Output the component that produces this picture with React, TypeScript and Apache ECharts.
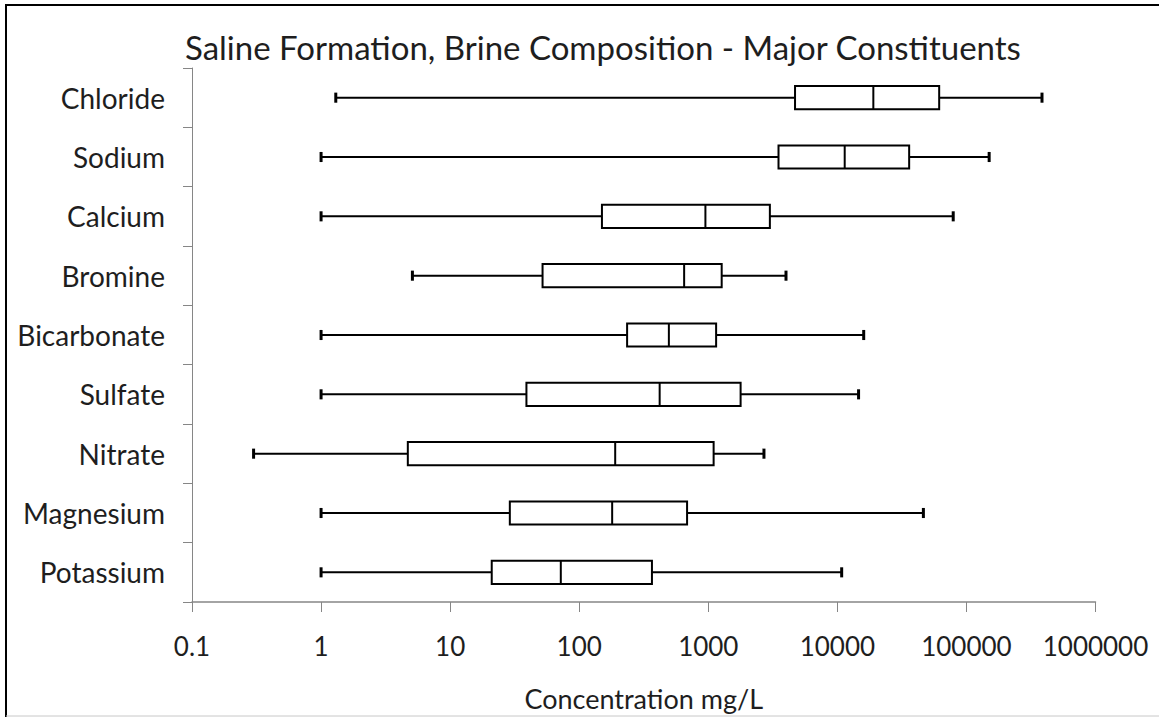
import React, { useEffect, useRef } from "react";
import * as echarts from "echarts";

// Constituents, listed top to bottom
const categories = [
  "Chloride",
  "Sodium",
  "Calcium",
  "Bromine",
  "Bicarbonate",
  "Sulfate",
  "Nitrate",
  "Magnesium",
  "Potassium",
];

// Five-number summaries, mg/L
const mins = [1.3, 1, 1, 5.1, 1, 1, 0.3, 1, 1];
const q1s = [4700, 3500, 150, 52, 235, 39, 4.7, 29, 21];
const medians = [19000, 11400, 950, 650, 495, 420, 190, 180, 72];
const q3s = [61500, 36000, 3000, 1270, 1150, 1780, 1100, 685, 366];
const maxs = [385000, 150000, 79000, 4000, 16000, 14600, 2700, 46400, 10800];

const xTicks = [0.1, 1, 10, 100, 1000, 10000, 100000, 1000000];

const FONT = "Lato, 'Noto Sans', sans-serif";
const TEXT = "#1e1e1e";
const AXIS = "#868686";

export default function App() {
  const ref = useRef<HTMLDivElement>(null);

  useEffect(() => {
    document.body.style.margin = "0";
    if (!ref.current) return;
    const chart = echarts.init(ref.current, undefined, { renderer: "svg" });

    const data = categories.map((_, i) => [i, mins[i], q1s[i], medians[i], q3s[i], maxs[i]]);

    const renderBox = (params: any, api: any) => {
      const cat = api.value(0);
      const pMin = api.coord([api.value(1), cat]);
      const pQ1 = api.coord([api.value(2), cat]);
      const pMed = api.coord([api.value(3), cat]);
      const pQ3 = api.coord([api.value(4), cat]);
      const pMax = api.coord([api.value(5), cat]);
      const band = api.size([0, 1])[1];
      const cy = pMed[1];
      const boxH = band * 0.39;
      const capH = band * 0.17;
      const stroke = { stroke: "#000", lineWidth: 2 };
      return {
        type: "group",
        children: [
          { type: "line", shape: { x1: pMin[0], y1: cy, x2: pQ1[0], y2: cy }, style: stroke },
          { type: "line", shape: { x1: pQ3[0], y1: cy, x2: pMax[0], y2: cy }, style: stroke },
          {
            type: "line",
            shape: { x1: pMin[0], y1: cy - capH / 2, x2: pMin[0], y2: cy + capH / 2 },
            style: { stroke: "#000", lineWidth: 3 },
          },
          {
            type: "line",
            shape: { x1: pMax[0], y1: cy - capH / 2, x2: pMax[0], y2: cy + capH / 2 },
            style: { stroke: "#000", lineWidth: 3 },
          },
          {
            type: "rect",
            shape: { x: pQ1[0], y: cy - boxH / 2, width: pQ3[0] - pQ1[0], height: boxH },
            style: { fill: "#fff", stroke: "#000", lineWidth: 2 },
          },
          {
            type: "line",
            shape: { x1: pMed[0], y1: cy - boxH / 2, x2: pMed[0], y2: cy + boxH / 2 },
            style: stroke,
          },
        ],
      };
    };

    chart.setOption({
      animation: false,
      backgroundColor: "#fff",
      textStyle: { fontFamily: FONT },
      title: {
        text: "Saline Formation, Brine Composition - Major Constituents",
        left: 180,
        top: 25,
        textStyle: { fontFamily: FONT, fontSize: 33, fontWeight: "normal", color: TEXT },
      },
      grid: { left: 192, right: 63.5, top: 68, bottom: 115, containLabel: false },
      xAxis: {
        type: "log",
        logBase: 10,
        min: xTicks[0],
        max: xTicks[xTicks.length - 1],
        name: "Concentration mg/L",
        nameLocation: "middle",
        nameGap: 83,
        nameTextStyle: { fontFamily: FONT, fontSize: 27, color: TEXT },
        axisLine: { show: true, lineStyle: { color: AXIS, width: 1.5 } },
        axisTick: { show: true, length: 10, lineStyle: { color: AXIS, width: 1 } },
        splitLine: { show: false },
        minorTick: { show: false },
        axisLabel: {
          fontFamily: FONT,
          fontSize: 26,
          color: TEXT,
          margin: 31,
          formatter: (v: number) => (v < 1 ? v.toFixed(1) : String(Math.round(v))),
        },
      },
      yAxis: {
        type: "category",
        inverse: true,
        data: categories,
        axisLine: { show: true, lineStyle: { color: AXIS, width: 1 } },
        axisTick: { show: true, length: 9, lineStyle: { color: AXIS, width: 1 } },
        splitLine: { show: false },
        axisLabel: { fontFamily: FONT, fontSize: 28, color: TEXT, margin: 27 },
      },
      graphic: [
        { type: "line", shape: { x1: 6, y1: 5, x2: 6, y2: 717 }, style: { stroke: "#000", lineWidth: 2 } },
        { type: "line", shape: { x1: 5, y1: 5, x2: 1159, y2: 5 }, style: { stroke: "#000", lineWidth: 2 } },
        { type: "line", shape: { x1: 6, y1: 716, x2: 1159, y2: 716 }, style: { stroke: "#c8c8c8", lineWidth: 1 } },
      ],
      series: [
        {
          type: "custom",
          renderItem: renderBox,
          data,
          encode: { y: 0, x: [1, 2, 3, 4, 5] },
          clip: false,
        },
      ],
    });

    return () => chart.dispose();
  }, []);

  return <div ref={ref} style={{ width: 1159, height: 717 }} />;
}
